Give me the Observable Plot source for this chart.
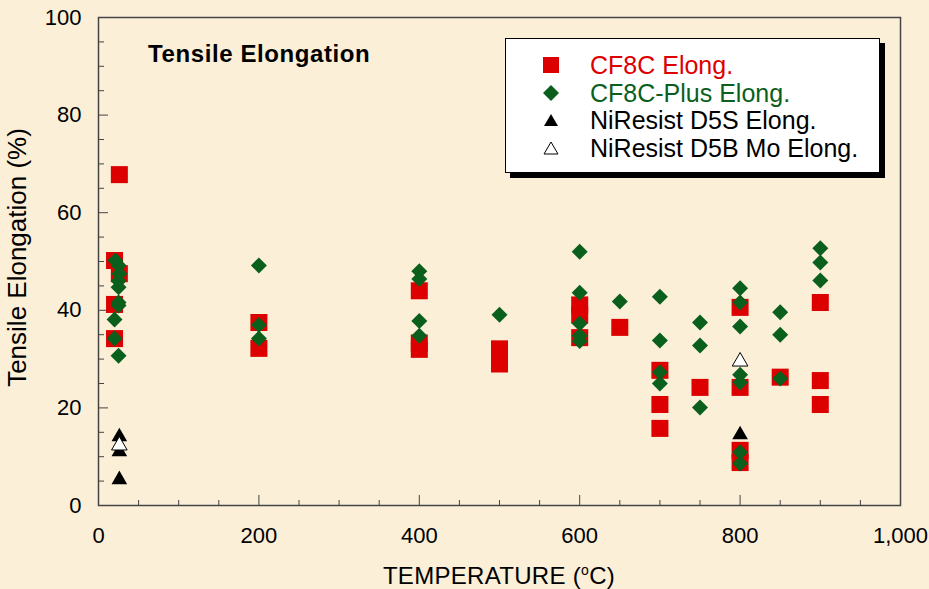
<!DOCTYPE html>
<html><head><meta charset="utf-8">
<script src="https://cdn.jsdelivr.net/npm/d3@7"></script>
<script src="https://cdn.jsdelivr.net/npm/@observablehq/plot@0.6"></script>
<style>
html,body{margin:0;padding:0;background:#fbefd8;}
#wrap{position:relative;width:929px;height:589px;overflow:hidden;font-family:Arial,"Liberation Sans",sans-serif;background:#fbefd8;}
#wrap svg{position:absolute;left:0;top:0;}
#title{position:absolute;left:148px;top:40px;font-weight:bold;font-size:24px;letter-spacing:0.6px;line-height:28px;color:#000;white-space:nowrap;}
#legend{position:absolute;left:505px;top:38px;width:373px;height:133px;background:#fff;border:1.5px solid #000;box-shadow:5px 5px 0 #000;}
#legend .row{position:absolute;left:0;height:28px;white-space:nowrap;font-size:25px;line-height:28px;}
#legend .row svg{position:absolute;left:35px;top:4px;}
#legend .row span{position:absolute;left:84px;top:0;}
#xlabel{position:absolute;left:98px;width:802px;top:562px;text-align:center;font-size:24px;letter-spacing:0.3px;line-height:28px;color:#000;white-space:nowrap;}
#xlabel sup{font-size:14px;vertical-align:9px;line-height:0;}
</style>
</head><body>
<div id="wrap">
<div id="chart"></div>
<div id="title">Tensile Elongation</div>
<div id="legend"></div>
<div id="xlabel">TEMPERATURE (<sup>o</sup>C)</div>
</div>
<script>
// ---- data ----
const cf8cTemp  = [20, 26, 20, 26, 20, 200, 200, 400, 400, 400, 500, 500, 600, 600, 600, 650, 700, 700, 700, 750, 800, 800, 800, 800, 850, 900, 900, 900];
const cf8cElong = [50.2, 67.8, 41.2, 47.5, 34.2, 37.5, 32.2, 44.0, 33.3, 32.0, 32.1, 29.0, 41.1, 39.0, 34.4, 36.5, 27.7, 20.7, 15.8, 24.2, 40.6, 24.2, 11.3, 8.8, 26.3, 41.6, 25.6, 20.7];

const plusTemp  = [21, 25, 26, 25, 25, 25, 25, 20, 20, 25, 200, 200, 200, 400, 400, 400, 400, 500, 600, 600, 600, 600, 600, 650, 700, 700, 700, 700, 750, 750, 750, 800, 800, 800, 800, 800, 800, 800, 850, 850, 850, 900, 900, 900];
const plusElong = [50.2, 49.2, 47.5, 46.0, 44.7, 41.6, 41.0, 38.1, 34.2, 30.7, 49.2, 37.0, 34.2, 48.0, 46.4, 37.8, 34.8, 39.1, 52.0, 43.6, 37.3, 34.8, 33.7, 41.8, 42.8, 33.8, 27.3, 25.0, 37.5, 32.8, 20.1, 44.5, 41.6, 36.7, 26.8, 25.2, 10.9, 8.6, 39.6, 35.0, 26.0, 52.7, 49.8, 46.1];

const d5sTemp  = [26, 26, 26, 800];
const d5sElong = [14.1, 11.0, 5.3, 14.5];

const d5bTemp  = [26, 800];
const d5bElong = [12.3, 29.5];

const seriesNames = ["CF8C Elong.", "CF8C-Plus Elong.", "NiResist D5S Elong.", "NiResist D5B Mo Elong."];
const yAxisLabel = "Tensile Elongation (%)";

const xMajor = [0, 200, 400, 600, 800, 1000];
const xMinor = [50, 100, 150, 250, 300, 350, 450, 500, 550, 650, 700, 750, 850, 900, 950];
const yMajor = [0, 20, 40, 60, 80, 100];
const yMinor = [5, 10, 15, 25, 30, 35, 45, 50, 55, 65, 70, 75, 85, 90, 95];

// ---- build ----
const zip = (xs, ys) => xs.map((x, i) => ({t: x, e: ys[i]}));
const cf8c = zip(cf8cTemp, cf8cElong);
const plus = zip(plusTemp, plusElong);
const d5s = zip(d5sTemp, d5sElong);
const d5b = zip(d5bTemp, d5bElong);

const RED = "#dc0000", GREEN = "#0b5f1c";
const W = 929, H = 589, mL = 98, mR = 29, mT = 17, mB = 84;
const innerW = W - mL - mR, innerH = H - mT - mB;
const FONT = "Arial, 'Liberation Sans', sans-serif";

const chart = Plot.plot({
  width: W, height: H,
  marginLeft: mL, marginRight: mR, marginTop: mT, marginBottom: mB,
  style: {background: "transparent", fontFamily: FONT, fontSize: "21px", color: "#000"},
  x: {domain: [0, 1000], label: null},
  y: {domain: [0, 100], label: null},
  marks: [
    Plot.tickX(xMinor, {x: d => d, insetTop: innerH - 5, stroke: "#444", strokeWidth: 1}),
    Plot.tickX(xMajor, {x: d => d, insetTop: innerH - 10, stroke: "#444", strokeWidth: 1}),
    Plot.tickY(yMinor, {y: d => d, insetRight: innerW - 6, stroke: "#444", strokeWidth: 1}),
    Plot.tickY(yMajor, {y: d => d, insetRight: innerW - 10, stroke: "#444", strokeWidth: 1}),
    Plot.axisX(xMajor, {tickSize: 0, tickPadding: 22, label: null, fontSize: 22}),
    Plot.axisY(yMajor, {tickSize: 0, tickPadding: 17, label: null, fontSize: 22}),
    Plot.text([yAxisLabel], {frameAnchor: "left", text: d => d, textAnchor: "middle", lineAnchor: "middle", rotate: -90, dx: -81, dy: -4, fontSize: 26, fill: "#000"}),
    Plot.frame({stroke: "#444", strokeWidth: 1.5}),
    Plot.dot(cf8c, {x: "t", y: "e", symbol: "square", r: 9.6, fill: RED, stroke: null}),
    Plot.dot(plus, {x: "t", y: "e", symbol: "diamond2", r: 7.2, fill: GREEN, stroke: null}),
    Plot.dot(d5s, {x: "t", y: "e", symbol: "triangle", r: 5.8, fill: "#000", stroke: null}),
    Plot.dot(d5b, {x: "t", y: "e", symbol: "triangle", r: 5.8, fill: "#fff", stroke: "#000", strokeWidth: 1})
  ]
});
document.getElementById("chart").appendChild(chart);

// ---- legend ----
const legendSymbols = [
  '<svg width="20" height="20"><rect x="2" y="2" width="16" height="16" fill="' + RED + '"/></svg>',
  '<svg width="20" height="20"><path d="M10 2 L18 10 L10 18 L2 10 Z" fill="' + GREEN + '"/></svg>',
  '<svg width="20" height="20"><path d="M10 4 L17 16 L3 16 Z" fill="#000"/></svg>',
  '<svg width="20" height="20"><path d="M10 4 L17 16 L3 16 Z" fill="#fff" stroke="#000" stroke-width="1"/></svg>'
];
const legendColors = [RED, GREEN, "#000", "#000"];
const legend = document.getElementById("legend");
seriesNames.forEach((name, i) => {
  const row = document.createElement("div");
  row.className = "row";
  row.style.top = (12 + i * 27.5) + "px";
  row.innerHTML = legendSymbols[i] + '<span style="color:' + legendColors[i] + '">' + name + '</span>';
  legend.appendChild(row);
});
</script>
</body></html>
